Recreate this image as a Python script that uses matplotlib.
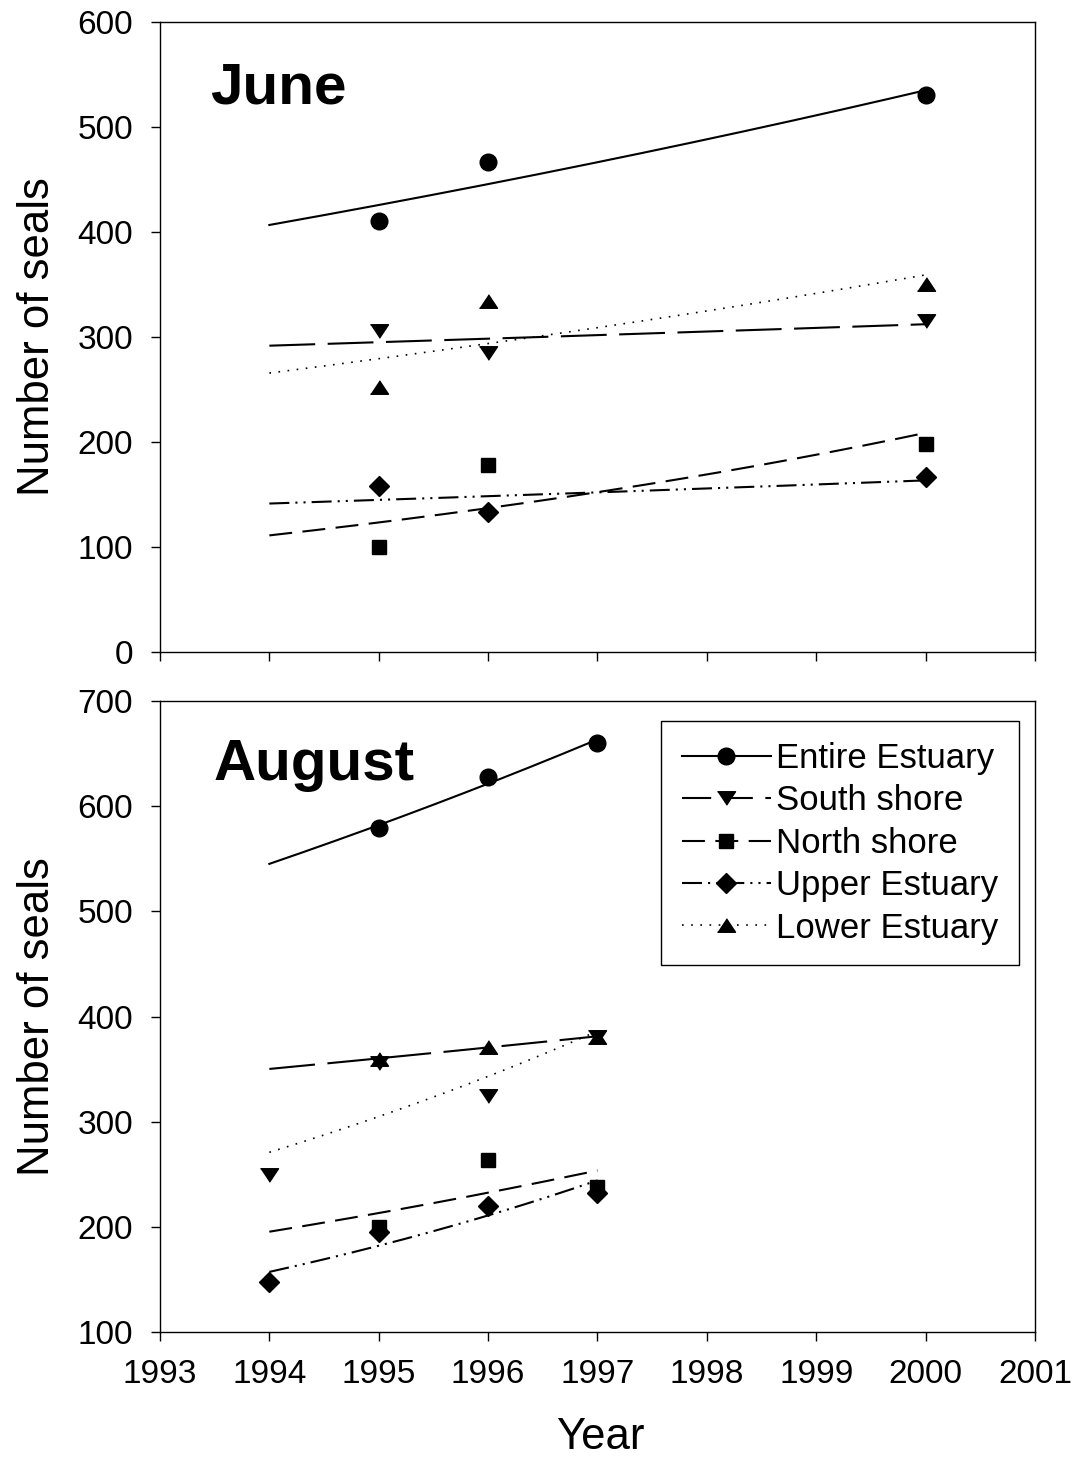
import numpy as np
import matplotlib
matplotlib.use('Agg')
import matplotlib.pyplot as plt
from matplotlib.lines import Line2D

plt.rcParams['font.family'] = ['Liberation Sans', 'DejaVu Sans']

# series names (legend order)
series = ['Entire Estuary', 'South shore', 'North shore', 'Upper Estuary', 'Lower Estuary']

# June counts
june_years = [1995, 1996, 2000]
june_entire = [410, 467, 530]
june_south = [306, 285, 315]
june_north = [100, 178, 198]
june_upper = [158, 133, 167]
june_lower = [252, 334, 350]

# August counts (years without a count are left out)
aug_entire_years = [1995, 1996, 1997]
aug_entire = [579, 628, 660]
aug_south_years = [1994, 1995, 1996, 1997]
aug_south = [249, 356, 324, 381]
aug_north_years = [1995, 1996, 1997]
aug_north = [200, 264, 238]
aug_upper_years = [1994, 1995, 1996, 1997]
aug_upper = [148, 195, 220, 232]
aug_lower_years = [1995, 1996, 1997]
aug_lower = [360, 371, 381]

# marker / line style of each series
tri_down = [(-1, 0.75), (1, 0.75), (0, -0.75)]
tri_up = [(-1, -0.75), (1, -0.75), (0, 0.75)]
markers = {'Entire Estuary': ('o', 12), 'South shore': (tri_down, 13),
           'North shore': ('s', 10), 'Upper Estuary': ('D', 10),
           'Lower Estuary': (tri_up, 13)}
lines = {'Entire Estuary': ('-', 1.5),
         'South shore': ((0, (22, 6)), 1.5),
         'North shore': ((0, (11, 5)), 1.5),
         'Upper Estuary': ((0, (9.6, 2.9, 1, 2.9, 1, 2.9)), 1.5),
         'Lower Estuary': ((0, (1, 4.5)), 1.2)}
# the legend samples are short, so the long dash is shortened there
legend_lines = dict(lines)
legend_lines['South shore'] = ((0, (14, 6)), 1.5)


def exp_fit(years, values, x0, x1):
    # exponential regression, like the trend lines of the original
    coef = np.polyfit(years, np.log(values), 1)
    xs = np.linspace(x0, x1, 200)
    return xs, np.exp(np.polyval(coef, xs))


fig = plt.figure(figsize=(10.78, 14.66), dpi=100)
ax1 = fig.add_axes([0.1484, 0.5553, 0.8117, 0.4297])
ax2 = fig.add_axes([0.1484, 0.0914, 0.8117, 0.4304])

# June panel
june = {'Entire Estuary': june_entire, 'South shore': june_south,
        'North shore': june_north, 'Upper Estuary': june_upper,
        'Lower Estuary': june_lower}
for name in series:
    xs, ys = exp_fit(june_years, june[name], 1994, 2000)
    ls, lw = lines[name]
    ax1.plot(xs, ys, color='black', ls=ls, lw=lw)
    m, ms = markers[name]
    ax1.plot(june_years, june[name], ls='none', marker=m, ms=ms, color='black')

# August panel
aug = {'Entire Estuary': (aug_entire_years, aug_entire),
       'South shore': (aug_south_years, aug_south),
       'North shore': (aug_north_years, aug_north),
       'Upper Estuary': (aug_upper_years, aug_upper),
       'Lower Estuary': (aug_lower_years, aug_lower)}
# in the original the South / Lower trend line styles are swapped in August
aug_line_of = {'Entire Estuary': 'Entire Estuary', 'South shore': 'Lower Estuary',
               'North shore': 'North shore', 'Upper Estuary': 'Upper Estuary',
               'Lower Estuary': 'South shore'}
for name in series:
    yrs, vals = aug[name]
    xs, ys = exp_fit(yrs, vals, 1994, 1997)
    ls, lw = lines[aug_line_of[name]]
    ax2.plot(xs, ys, color='black', ls=ls, lw=lw)
    m, ms = markers[name]
    ax2.plot(yrs, vals, ls='none', marker=m, ms=ms, color='black')

for ax in (ax1, ax2):
    ax.set_xlim(1993, 2001)
    ax.set_xticks(range(1993, 2002))
    ax.tick_params(direction='out', length=6.5, width=1, labelsize=24, pad=13)
    for sp in ax.spines.values():
        sp.set_linewidth(1)
    ax.set_ylabel('Number of seals', fontsize=31.5)
    ax.yaxis.set_label_coords(-0.117, 0.5)

ax1.set_ylim(0, 600)
ax1.set_yticks(range(0, 601, 100))
ax1.tick_params(axis='x', labelbottom=False)
ax2.set_ylim(100, 700)
ax2.set_yticks(range(100, 701, 100))
ax2.set_xlabel('Year', fontsize=31.5)
ax2.xaxis.set_label_coords(0.503, -0.135)

ax1.text(0.057, 0.871, 'June', transform=ax1.transAxes, fontsize=42,
         fontweight='bold', va='baseline')
ax2.text(0.061, 0.875, 'August', transform=ax2.transAxes, fontsize=42,
         fontweight='bold', va='baseline')

handles = []
for name in series:
    ls, lw = legend_lines[name]
    m, ms = markers[name]
    handles.append(Line2D([], [], color='black', ls=ls, lw=lw, marker=m, ms=ms))
leg = ax2.legend(handles, series, loc='upper right', bbox_to_anchor=(0.9817, 0.968),
                 fontsize=25, numpoints=1, handlelength=2.55, handletextpad=0.15,
                 labelspacing=0.27, borderpad=0.6, borderaxespad=0,
                 fancybox=False, framealpha=1, edgecolor='black')
leg.get_frame().set_linewidth(1)

fig.savefig('out.png', dpi=100)
